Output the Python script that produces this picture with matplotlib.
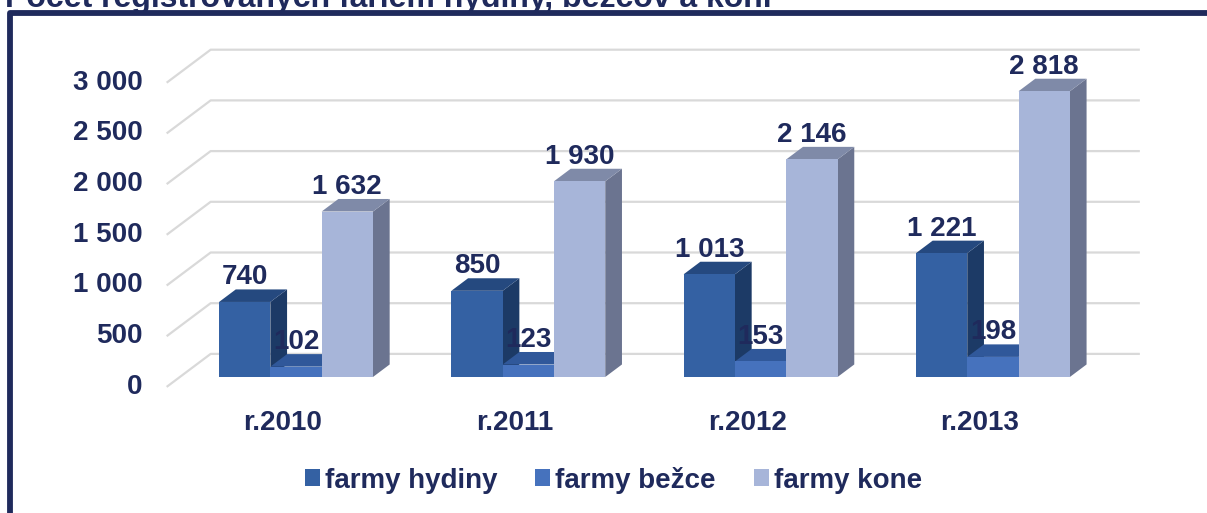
import matplotlib.pyplot as plt
from matplotlib.patches import Polygon, Rectangle, Patch

years = ['r.2010', 'r.2011', 'r.2012', 'r.2013']
series = ['farmy hydiny', 'farmy bežce', 'farmy kone']
hydiny = [740, 850, 1013, 1221]
bezce = [102, 123, 153, 198]
kone = [1632, 1930, 2146, 2818]
ticks = [0, 500, 1000, 1500, 2000, 2500, 3000]
title = 'Počet registrovaných fariem hydiny, bežcov a koní'

navy = '#1f2a5c'
face_front = ['#3461a3', '#4672bd', '#a7b5d9']
face_top = ['#25497f', '#30589a', '#7f8aa8']
face_side = ['#1c3a66', '#284f8c', '#6b7490']
grid_col = '#d9d9d9'

plt.rcParams['font.family'] = ['Liberation Sans', 'DejaVu Sans']
plt.rcParams['font.weight'] = 'bold'
FS = 20


def fmt(v):
    return f'{v:,}'.replace(',', ' ')


W, H = 1207, 513
fig = plt.figure(figsize=(W / 100, H / 100), dpi=100)
ax = fig.add_axes([0, 0, 1, 1])
ax.axis('off')

# scale: pixels per category step and per value unit
px_cat = 232.3
px_val = 50.7 / 500
x0_px, y0_px = 296, 377
ax.set_xlim(-x0_px / px_cat, (W - x0_px) / px_cat)
ax.set_ylim(-(H - y0_px) / px_val, y0_px / px_val)

# depth direction of the fake 3d box
Dx = 44 / px_cat
Dy = 33 / px_val
d_front, d_bar, d_back = -0.3, 0.38, 0.7
xl, xr = -0.5, len(years) - 0.5

# walls: gridlines on the back wall + diagonals on the left wall
for v in ticks:
    ax.plot([xl + d_front * Dx, xl + d_back * Dx, xr + d_back * Dx],
            [v + d_front * Dy, v + d_back * Dy, v + d_back * Dy],
            color=grid_col, lw=1.6, zorder=1, solid_capstyle='butt')
    ax.text(xl + d_front * Dx - 24 / px_cat, v + d_front * Dy, fmt(v),
            ha='right', va='center', fontsize=FS, color=navy)

w = 51.3 / px_cat
bx, by = d_bar * Dx, d_bar * Dy
z = 2.0
for i in range(len(years)):
    for j, vals in enumerate([hydiny, bezce, kone]):
        c = i + (j - 1) * w
        h = vals[i]
        xa, xb = c - w / 2, c + w / 2
        ax.add_patch(Polygon([(xb, 0), (xb + bx, by), (xb + bx, h + by), (xb, h)],
                             closed=True, fc=face_side[j], ec='none', zorder=z))
        ax.add_patch(Polygon([(xa, h), (xb, h), (xb + bx, h + by), (xa + bx, h + by)],
                             closed=True, fc=face_top[j], ec='none', zorder=z + 0.001))
        ax.add_patch(Rectangle((xa, 0), w, h, fc=face_front[j], ec='none',
                               zorder=z + 0.002))
        z += 0.01
        ax.text(c, h + by + 5 / px_val, fmt(h), ha='center', va='baseline',
                fontsize=FS, color=navy, zorder=20)
    ax.text(i + d_front * Dx, -53 / px_val, years[i], ha='center', va='baseline',
            fontsize=FS, color=navy)

handles = [Patch(fc=c, ec='none') for c in face_front]
leg = fig.legend(handles, series, loc='center', bbox_to_anchor=(613.5 / W, 1 - 480 / H),
                 ncol=3, frameon=False, handlelength=0.54, handleheight=0.54,
                 handletextpad=0.18, columnspacing=1.38,
                 prop=dict(family='Liberation Sans', weight='bold', size=FS))
for t in leg.get_texts():
    t.set_color(navy)

# chart title sits above the frame, running off the top edge
fig.text(5 / W, 1 - 7 / H, title, ha='left', va='baseline', fontsize=23, color=navy)

# frame around the chart area
fig.add_artist(Rectangle((10 / W, -0.1), 1.2, 1.1 - 13 / H, transform=fig.transFigure,
                         fill=False, ec=navy, lw=4.2, joinstyle='round'))

fig.savefig('out.png', dpi=100)
